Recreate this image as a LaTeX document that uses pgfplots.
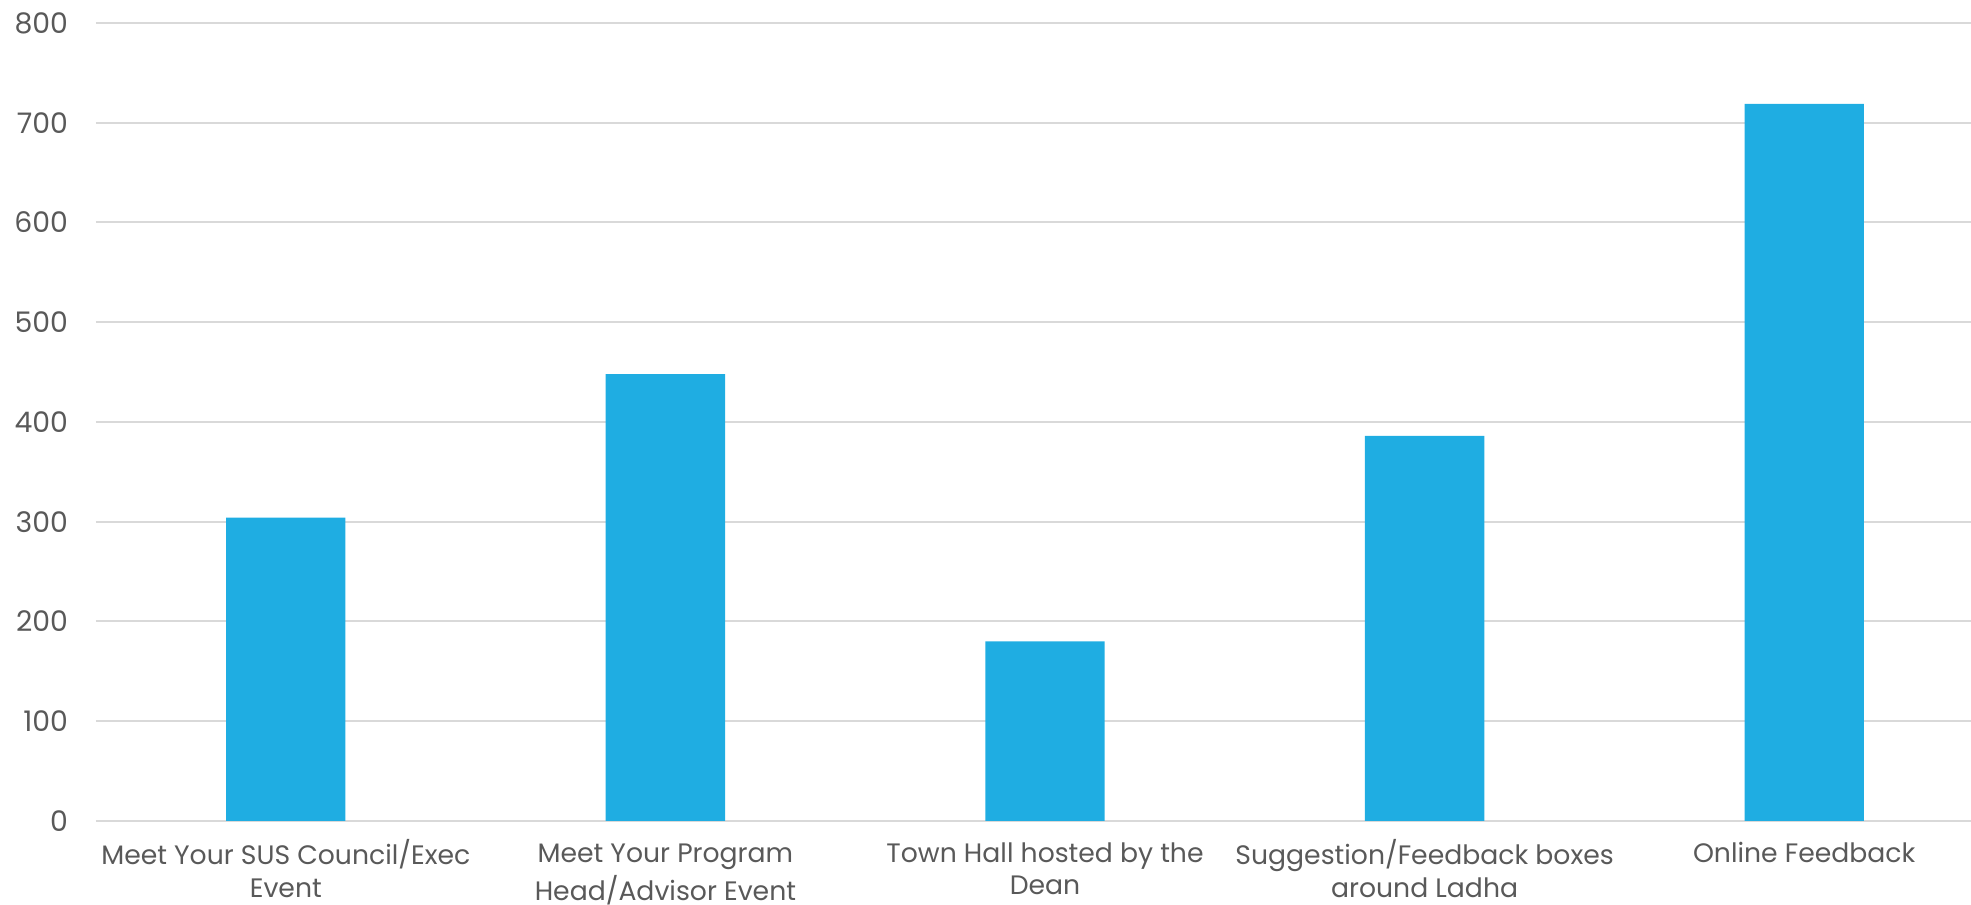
\documentclass[border=0pt]{standalone}
\usepackage{fontspec}
\setmainfont{Poppins}
\usepackage{pgfplots}
\pgfplotsset{compat=1.18}
\definecolor{barblue}{HTML}{1FADE2}
\definecolor{gridgray}{HTML}{D9D9D9}
\definecolor{txtgray}{HTML}{595959}
\begin{document}
\begin{tikzpicture}
\begin{axis}[
  name=ax,
  scale only axis,
  width=569.4pt, height=239.4pt,
  xmin=-0.5, xmax=4.5,
  ymin=0, ymax=800,
  ytick={0,100,...,800},
  xtick={0,1,2,3,4},
  xticklabels={{\strut Meet Your SUS Council/Exec\\Event},{\strut Meet Your Program\\Head/Advisor Event},{\strut Town Hall hosted by the\\Dean},{\strut Suggestion/Feedback boxes\\around Ladha},{\strut Online Feedback}},
  axis line style={draw=none},
  major tick length=0pt,
  ymajorgrids,
  grid style={gridgray, line width=0.6pt},
  /pgf/number format/assume math mode=true,
  ticklabel style={text=txtgray},
  yticklabel style={inner sep=0pt, anchor=east, font=\fontsize{8.5}{10}\selectfont},
  yticklabel shift=8.2pt,
  xticklabel style={inner sep=0pt, anchor=north, align=center, font=\fontsize{8}{9.8}\selectfont},
  xticklabel shift=5.3pt,
  ybar, bar width=35.8pt,
]
\addplot[fill=barblue, draw=none] coordinates {(0,304) (1,448) (2,180) (3,386) (4,719)};
\end{axis}
\path (ax.south west) ++(-28.8pt,-25.2pt) coordinate (bl);
\path (ax.north east) ++(-6.9pt,6.9pt) coordinate (tr);
\pgfresetboundingbox
\path[use as bounding box] (bl) rectangle (tr);
\end{tikzpicture}
\end{document}
